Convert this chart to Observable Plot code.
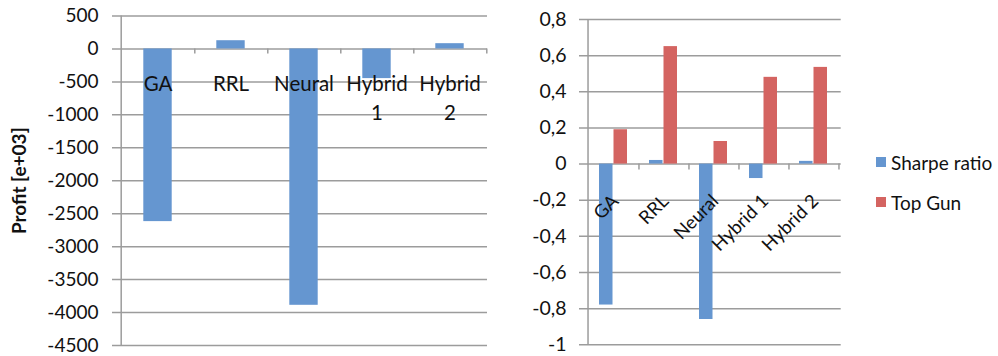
<!DOCTYPE html>
<html>
<head>
<meta charset="utf-8">
<script src="https://cdn.jsdelivr.net/npm/d3@7"></script>
<script src="https://cdn.jsdelivr.net/npm/@observablehq/plot@0.6"></script>
<style>
  body { margin: 0; background: #fff; }
  #chart { position: relative; width: 998px; height: 356px; font-family: Lato, "Open Sans", sans-serif; color: #111; }
  #chart svg { position: absolute; top: 0; }
  .legend { position: absolute; left: 876px; top: 150px; font-size: 19px; color: #111; }
  .legend div { display: flex; align-items: center; height: 24px; margin-bottom: 16px; }
  .legend span.sw { width: 10px; height: 10px; margin-right: 5px; display: inline-block; }
</style>
</head>
<body>
<div id="chart"></div>
<script>
// Methods compared
const methods = ["GA", "RRL", "Neural", "Hybrid 1", "Hybrid 2"];
const methodLabels = ["GA", "RRL", "Neural", "Hybrid\n1", "Hybrid\n2"];

// Profit per method, in thousands
const profit = [-2620, 125, -3890, -450, 80];

// Risk-adjusted measures per method
const sharpeRatio = [-0.78, 0.02, -0.86, -0.08, 0.015];
const topGun = [0.19, 0.65, 0.125, 0.48, 0.535];

// Axis ticks
const profitTicks = [-4500, -4000, -3500, -3000, -2500, -2000, -1500, -1000, -500, 0, 500];
const ratioTicks = [-1, -0.8, -0.6, -0.4, -0.2, 0, 0.2, 0.4, 0.6, 0.8];

const seriesNames = ["Sharpe ratio", "Top Gun"];
const blue = "#6596d0";
const red = "#d46461";
const gridColor = "#9c9c9c";
const textColor = "#111";
const font = 'Lato, "Open Sans", sans-serif';

const chart = document.getElementById("chart");

// ---- Left panel: profit ----
const L = {width: 500, height: 356, ml: 119, mr: 13, mt: 15.5, mb: 11};
const lBand = (L.width - L.ml - L.mr) / methods.length;
const profitRows = methods.map((m, i) => ({method: m, label: methodLabels[i], profit: profit[i]}));

const left = Plot.plot({
  width: L.width, height: L.height,
  marginLeft: L.ml, marginRight: L.mr, marginTop: L.mt, marginBottom: L.mb,
  style: {fontSize: "19px", fontFamily: font, color: textColor, background: "transparent", overflow: "visible"},
  x: {domain: methods, padding: 0, axis: null},
  y: {domain: [-4500, 500], ticks: profitTicks, tickSize: 0, tickPadding: 21, tickFormat: d => String(d), label: null},
  marks: [
    Plot.ruleY(profitTicks, {stroke: gridColor, strokeWidth: 1.5, insetLeft: -7}),
    Plot.ruleX([methods[0]], {dx: -lBand / 2, stroke: gridColor, strokeWidth: 1.5}),
    Plot.ruleX(methods, {x: d => d, y1: d => 0, y2: d => 0, insetBottom: -5, dx: lBand / 2, stroke: gridColor, strokeWidth: 1.5}),
    Plot.barY(profitRows, {x: "method", y: "profit", fill: blue, insetLeft: 22.3, insetRight: 22.3}),
    Plot.text(profitRows, {x: "method", y: d => 0, text: "label", dy: 22, lineAnchor: "top", lineHeight: 1.4, fontSize: 20.5, fill: textColor}),
    Plot.text(["Profit [e+03]"], {frameAnchor: "left", textAnchor: "middle", rotate: -90, dx: -100, fontWeight: "bold", fontSize: 19, fill: textColor})
  ]
});
left.style.left = "0px";
chart.appendChild(left);

// ---- Right panel: Sharpe ratio and Top Gun ----
const R = {width: 350, height: 356, ml: 86, mr: 9.3, mt: 19, mb: 11.7};
const rBand = (R.width - R.ml - R.mr) / methods.length;
const sharpeRows = methods.map((m, i) => ({method: m, value: sharpeRatio[i]}));
const topGunRows = methods.map((m, i) => ({method: m, value: topGun[i]}));

const right = Plot.plot({
  width: R.width, height: R.height,
  marginLeft: R.ml, marginRight: R.mr, marginTop: R.mt, marginBottom: R.mb,
  style: {fontSize: "19.5px", fontFamily: font, color: textColor, background: "transparent", overflow: "visible"},
  x: {domain: methods, padding: 0, axis: null},
  y: {domain: [-1, 0.8], ticks: ratioTicks, tickSize: 0, tickPadding: 20, tickFormat: d => String(d).replace(".", ","), label: null},
  marks: [
    Plot.ruleY(ratioTicks, {stroke: gridColor, strokeWidth: 1.5, insetLeft: -7}),
    Plot.ruleX([methods[0]], {dx: -rBand / 2, stroke: gridColor, strokeWidth: 1.5}),
    Plot.ruleX(methods, {x: d => d, y1: d => 0, y2: d => 0, insetBottom: -6, dx: rBand / 2, stroke: gridColor, strokeWidth: 1.5}),
    Plot.barY(sharpeRows, {x: "method", y: "value", fill: blue, insetLeft: 11, insetRight: 25.5}),
    Plot.barY(topGunRows, {x: "method", y: "value", fill: red, insetLeft: 25.5, insetRight: 11}),
    Plot.text(methods, {x: d => d, y: d => 0, text: d => d, rotate: -45, textAnchor: "end", dx: 2, dy: 34, fontSize: 18.5, fill: textColor})
  ]
});
right.style.left = "500px";
chart.appendChild(right);

// ---- Legend ----
const legend = document.createElement("div");
legend.className = "legend";
[[seriesNames[0], blue], [seriesNames[1], red]].forEach(([name, color]) => {
  const row = document.createElement("div");
  const sw = document.createElement("span");
  sw.className = "sw";
  sw.style.background = color;
  row.appendChild(sw);
  row.appendChild(document.createTextNode(name));
  legend.appendChild(row);
});
chart.appendChild(legend);
</script>
</body>
</html>
